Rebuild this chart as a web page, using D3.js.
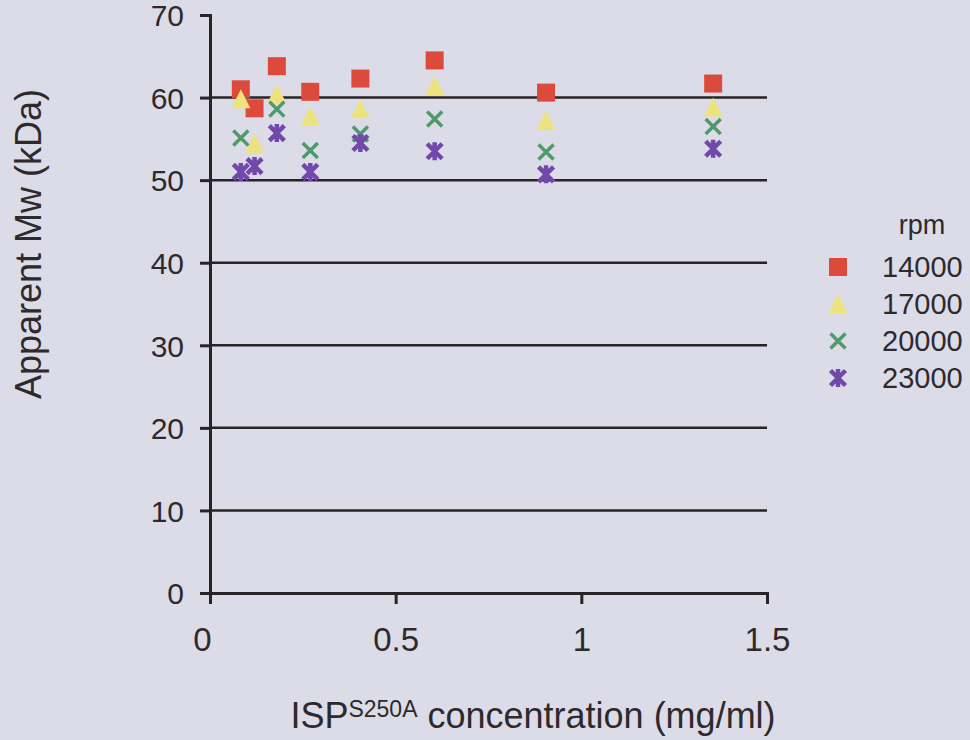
<!DOCTYPE html>
<html>
<head>
<meta charset="utf-8">
<script src="https://cdn.jsdelivr.net/npm/d3@7"></script>
<style>
  body { margin: 0; background: #dcdce8; }
  svg { display: block; font-family: "Liberation Sans", Arial, sans-serif; }
</style>
</head>
<body>
<script>
// concentrations (mg/ml) and apparent Mw per rotor speed
const conc = [0.083, 0.12, 0.18, 0.27, 0.405, 0.605, 0.905, 1.355]
const rpm14000 = [61.0, 58.7, 63.8, 60.7, 62.3, 64.5, 60.6, 61.7]
const rpm17000 = [59.8, 54.4, 60.4, 57.7, 58.6, 61.4, 57.2, 58.8]
const conc20000 = [0.083, 0.18, 0.27, 0.405, 0.605, 0.905, 1.355]
const rpm20000 = [55.1, 58.6, 53.6, 55.6, 57.4, 53.4, 56.5]
const rpm23000 = [51.0, 51.7, 55.7, 51.0, 54.5, 53.5, 50.7, 53.8]
const speeds = ['14000', '17000', '20000', '23000']
const yTicks = [0, 10, 20, 30, 40, 50, 60, 70]
const xTicks = [0, 0.5, 1, 1.5]

const width = 970, height = 740
const margin = {top: 15, left: 210, right: 203, bottom: 147}

const svg = d3.select('body').append('svg')
    .attr('width', width)
    .attr('height', height)

const x = d3.scaleLinear().domain([0, 1.5]).range([margin.left, width - margin.right])
const y = d3.scaleLinear().domain([0, 70]).range([height - margin.bottom, margin.top])

const ink = '#2a2326'

// gridlines
svg.append('g')
    .selectAll('line')
    .data(yTicks.filter(d => d > 0 && d < 70))
    .enter()
    .append('line')
    .attr('x1', x(0))
    .attr('x2', x(1.5))
    .attr('y1', d => y(d))
    .attr('y2', d => y(d))
    .attr('stroke', ink)
    .attr('stroke-width', 2.5)

// y axis
const yAxis = svg.append('g')
    .attr('transform', 'translate(' + x(0) + ',0)')
    .call(d3.axisLeft(y).tickValues(yTicks).tickSize(10).tickPadding(16))
yAxis.select('.domain').attr('stroke', ink).attr('stroke-width', 3)
yAxis.selectAll('.tick line').attr('stroke', ink).attr('stroke-width', 3)
yAxis.selectAll('.tick text')
    .attr('fill', '#2e2a2c')
    .attr('dy', '0.36em')
    .style('font-size', '30px')
    .style('font-family', '"Liberation Sans", Arial, sans-serif')

// x axis
const xAxis = svg.append('g')
    .attr('transform', 'translate(0,' + y(0) + ')')
    .call(d3.axisBottom(x).tickValues(xTicks).tickFormat(d3.format('')).tickSize(11).tickPadding(24))
xAxis.select('.domain').attr('stroke', ink).attr('stroke-width', 3)
xAxis.selectAll('.tick line').attr('stroke', ink).attr('stroke-width', 3)
xAxis.selectAll('.tick text')
    .attr('fill', '#2e2a2c')
    .attr('dx', d => d === 0 ? -8 : 0)
    .style('font-size', '33px')
    .style('font-family', '"Liberation Sans", Arial, sans-serif')

// markers
const colors = {'14000': '#dc4a3b', '17000': '#ece27e', '20000': '#4f9a6c', '23000': '#7049aa'}

function drawMarker(g, kind, cx, cy) {
    if (kind === '14000') {
        g.append('rect')
            .attr('x', cx - 9).attr('y', cy - 9)
            .attr('width', 18).attr('height', 18)
            .attr('fill', colors[kind])
    } else if (kind === '17000') {
        g.append('path')
            .attr('d', 'M' + cx + ',' + (cy - 10) + 'L' + (cx + 9.5) + ',' + (cy + 9) + 'L' + (cx - 9.5) + ',' + (cy + 9) + 'Z')
            .attr('fill', colors[kind])
    } else if (kind === '20000') {
        const s = 7.5
        g.append('path')
            .attr('d', 'M' + (cx - s) + ',' + (cy - s) + 'L' + (cx + s) + ',' + (cy + s) +
                'M' + (cx + s) + ',' + (cy - s) + 'L' + (cx - s) + ',' + (cy + s))
            .attr('stroke', colors[kind])
            .attr('stroke-width', 3.5)
    } else {
        const s = 7.5
        g.append('path')
            .attr('d', 'M' + (cx - s) + ',' + (cy - s) + 'L' + (cx + s) + ',' + (cy + s) +
                'M' + (cx + s) + ',' + (cy - s) + 'L' + (cx - s) + ',' + (cy + s) +
                'M' + cx + ',' + (cy - 9) + 'L' + cx + ',' + (cy + 9))
            .attr('stroke', colors[kind])
            .attr('stroke-width', 4.5)
    }
}

const series = [
    {key: '14000', xs: conc, ys: rpm14000},
    {key: '17000', xs: conc, ys: rpm17000},
    {key: '20000', xs: conc20000, ys: rpm20000},
    {key: '23000', xs: conc, ys: rpm23000}
]

const pts = svg.append('g').attr('id', 'points')
series.forEach(function (s) {
    s.ys.forEach(function (v, i) {
        drawMarker(pts, s.key, x(s.xs[i]), y(v))
    })
})

// legend
const legend = svg.append('g').attr('id', 'legend')
legend.append('text')
    .attr('x', 922).attr('y', 234)
    .attr('text-anchor', 'middle')
    .attr('fill', '#2e2a2c')
    .style('font-size', '27px')
    .text('rpm')
const rowY = [267, 304, 341, 378]
speeds.forEach(function (k, i) {
    drawMarker(legend, k, 838, rowY[i])
    legend.append('text')
        .attr('x', 882).attr('y', rowY[i] + 10)
        .attr('fill', '#2e2a2c')
        .style('font-size', '29px')
        .text(k)
})

// axis titles
svg.append('text')
    .attr('transform', 'translate(41,' + 244 + ') rotate(-90)')
    .attr('text-anchor', 'middle')
    .attr('fill', '#2e2a2c')
    .style('font-size', '36px')
    .text('Apparent Mw (kDa)')

const xt = svg.append('text')
    .attr('x', 533).attr('y', 728)
    .attr('text-anchor', 'middle')
    .attr('fill', '#2e2a2c')
    .style('font-size', '36px')
xt.append('tspan').text('ISP')
xt.append('tspan').attr('dy', -11).style('font-size', '23px').text('S250A')
xt.append('tspan').attr('dy', 11).text(' concentration (mg/ml)')
</script>
</body>
</html>
